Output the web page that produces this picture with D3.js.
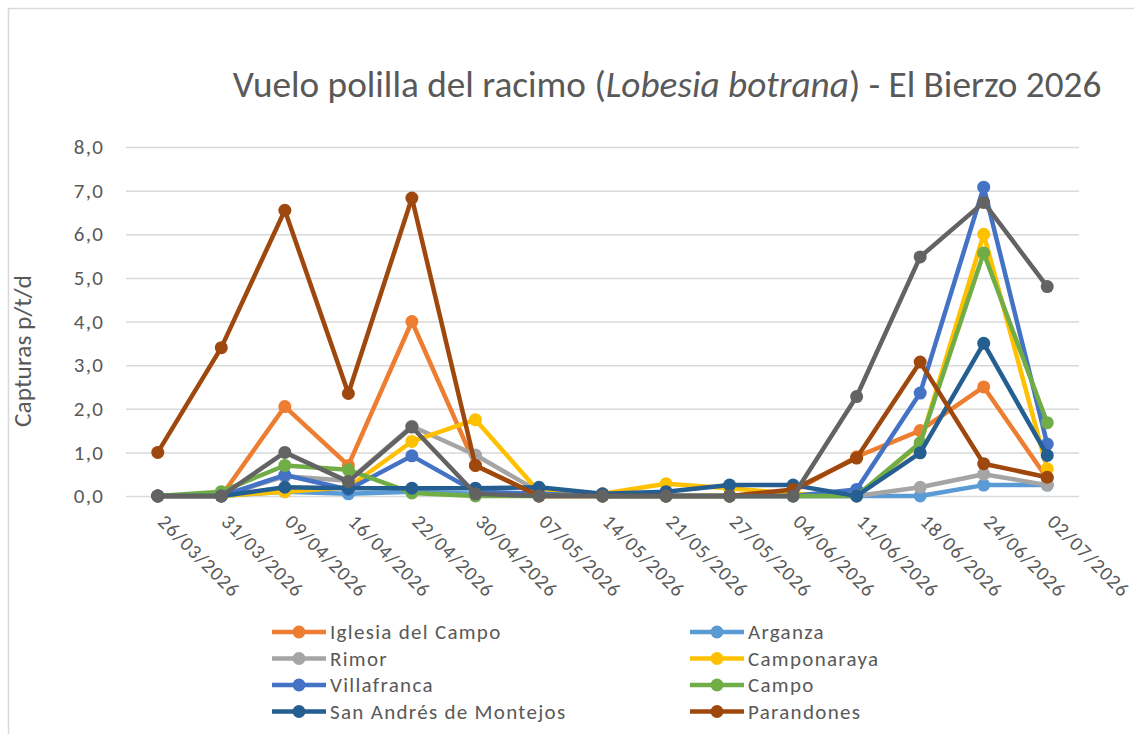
<html>
<head>
<meta charset="utf-8">
<title>Vuelo polilla del racimo</title>
<script src="https://cdn.jsdelivr.net/npm/d3@7"></script>
<style>
  body { margin: 0; background: #fff; }
  text { font-family: Carlito, Lato, "Liberation Sans", sans-serif; fill: #595959; }
  .grid line { stroke: #d9d9d9; stroke-width: 1.5px; }
  .grid .domain { display: none; }
</style>
</head>
<body>
<div id="chart"></div>
<script>
// dates of the trap readings
var dates = ["26/03/2026","31/03/2026","09/04/2026","16/04/2026","22/04/2026","30/04/2026","07/05/2026",
             "14/05/2026","21/05/2026","27/05/2026","04/06/2026","11/06/2026","18/06/2026","24/06/2026","02/07/2026"];

// captures p/t/d per site
var iglesiaDelCampo = [0, 0, 2.05, 0.7, 4.0, 0.7, 0, 0, 0, 0, 0.1, 0.9, 1.5, 2.5, 0.4];
var arganza         = [0, 0, 0.1, 0.05, 0.1, 0.05, 0.05, 0, 0, 0, 0, 0, 0, 0.25, 0.25];
var rimor           = [0, 0, 0.45, 0.35, 1.6, 0.94, 0.1, 0, 0, 0, 0, 0, 0.2, 0.5, 0.25];
var camponaraya     = [0, 0, 0.1, 0.2, 1.25, 1.75, 0.1, 0.05, 0.28, 0.18, 0.05, 0, 1.2, 6.0, 0.62];
var villafranca     = [0, 0, 0.48, 0.15, 0.92, 0.1, 0.05, 0, 0, 0, 0, 0.15, 2.36, 7.08, 1.19];
var campo           = [0, 0.1, 0.7, 0.6, 0.07, 0, 0, 0, 0, 0, 0, 0, 1.22, 5.57, 1.68];
var sanAndres       = [0, 0, 0.2, 0.18, 0.18, 0.18, 0.2, 0.05, 0.1, 0.25, 0.25, 0, 0.99, 3.5, 0.93];
var parandones      = [1.0, 3.4, 6.55, 2.35, 6.83, 0.7, 0, 0, 0, 0, 0.15, 0.87, 3.07, 0.74, 0.43];
var serie9          = [0, 0, 1.0, 0.33, 1.58, 0.05, 0, 0, 0, 0, 0, 2.28, 5.48, 6.73, 4.8];

var yTicks = [0, 1, 2, 3, 4, 5, 6, 7, 8];

var series = [
  {name: "Iglesia del Campo", color: "#ED7D31", values: iglesiaDelCampo},
  {name: "Arganza", color: "#5B9BD5", values: arganza},
  {name: "Rimor", color: "#A5A5A5", values: rimor},
  {name: "Camponaraya", color: "#FFC000", values: camponaraya},
  {name: "Villafranca", color: "#4472C4", values: villafranca},
  {name: "Campo", color: "#70AD47", values: campo},
  {name: "San Andrés de Montejos", color: "#255E91", values: sanAndres},
  {name: "Parandones", color: "#9E480E", values: parandones},
  {name: null, color: "#636363", values: serie9}
];

var W = 1134, H = 734;
var plot = {left: 126, right: 1079, top: 147, bottom: 496};

var svg = d3.select("#chart").append("svg").attr("width", W).attr("height", H);

// chart border (runs off the right and bottom)
svg.append("rect").attr("x", 8.5).attr("y", 8.5).attr("width", W + 20).attr("height", H + 20)
   .attr("fill", "none").attr("stroke", "#d9d9d9").attr("stroke-width", 1.5);

// scale a text's font so its width matches the reference
function fitWidth(sel, target) {
  var node = sel.node();
  var fs = parseFloat(sel.style("font-size"));
  var w = node.getComputedTextLength();
  sel.style("font-size", (fs * target / w) + "px");
}

var x = d3.scaleBand().domain(dates).range([plot.left, plot.right]);
var y = d3.scaleLinear().domain([0, 8]).range([plot.bottom, plot.top]);
var cx = function(d) { return x(d) + x.bandwidth() / 2; };

// gridlines + y labels
var yAxis = svg.append("g").attr("class", "grid")
  .attr("transform", "translate(" + plot.left + ",0)")
  .call(d3.axisLeft(y).tickValues(yTicks).tickSize(-(plot.right - plot.left)).tickPadding(22)
        .tickFormat(function(d) { return d.toFixed(1).replace(".", ","); }));
yAxis.selectAll("text").style("font-size", "21px").style("letter-spacing", "1.2px")
  .style("fill", "#595959").attr("font-family", null);

// x labels, rotated
var xAxis = svg.append("g").attr("transform", "translate(0," + plot.bottom + ")")
  .call(d3.axisBottom(x).tickSize(0).tickPadding(0));
xAxis.select(".domain").remove();
xAxis.selectAll("text")
  .attr("font-family", null)
  .style("font-size", "20px").style("letter-spacing", "1px").style("fill", "#595959")
  .attr("text-anchor", "start")
  .attr("dy", null)
  .attr("y", 0)
  .attr("transform", "translate(-1,27) rotate(45)");

// lines + markers
var line = d3.line().x(function(d, i) { return cx(dates[i]); }).y(function(d) { return y(d); });

series.forEach(function(s) {
  var g = svg.append("g");
  g.append("path").datum(s.values).attr("d", line)
    .attr("fill", "none").attr("stroke", s.color).attr("stroke-width", 4.5)
    .attr("stroke-linejoin", "round").attr("stroke-linecap", "round");
  g.selectAll("circle").data(s.values).enter().append("circle")
    .attr("cx", function(d, i) { return cx(dates[i]); })
    .attr("cy", function(d) { return y(d); })
    .attr("r", 6.5).attr("fill", s.color);
});

// title
var title = svg.append("text").attr("x", 667).attr("y", 97).attr("text-anchor", "middle")
  .style("font-size", "30px");
title.append("tspan").text("Vuelo polilla del racimo (");
title.append("tspan").style("font-style", "italic").text("Lobesia botrana");
title.append("tspan").text(") - El Bierzo 2026");
fitWidth(title, 869);

// y axis title
var ytitle = svg.append("text").attr("transform", "translate(31,351) rotate(-90)")
  .attr("text-anchor", "middle").style("font-size", "20px").text("Capturas p/t/d");
fitWidth(ytitle, 152);

// legend
var legendItems = series.filter(function(s) { return s.name; });
var lg = svg.selectAll(".legend").data(legendItems).enter().append("g")
  .attr("class", "legend")
  .attr("transform", function(d, i) {
    return "translate(" + (i % 2 === 0 ? 272 : 690) + "," + (632 + Math.floor(i / 2) * 26.5) + ")";
  });
lg.append("line").attr("x1", 0).attr("x2", 54).attr("y1", 0).attr("y2", 0)
  .attr("stroke", function(d) { return d.color; }).attr("stroke-width", 4.5);
lg.append("circle").attr("cx", 27).attr("r", 6.5).attr("fill", function(d) { return d.color; });
lg.append("text").attr("x", 58).attr("dy", "0.35em").style("font-size", "21px")
  .style("letter-spacing", "1.3px")
  .text(function(d) { return d.name; });
</script>
</body>
</html>
